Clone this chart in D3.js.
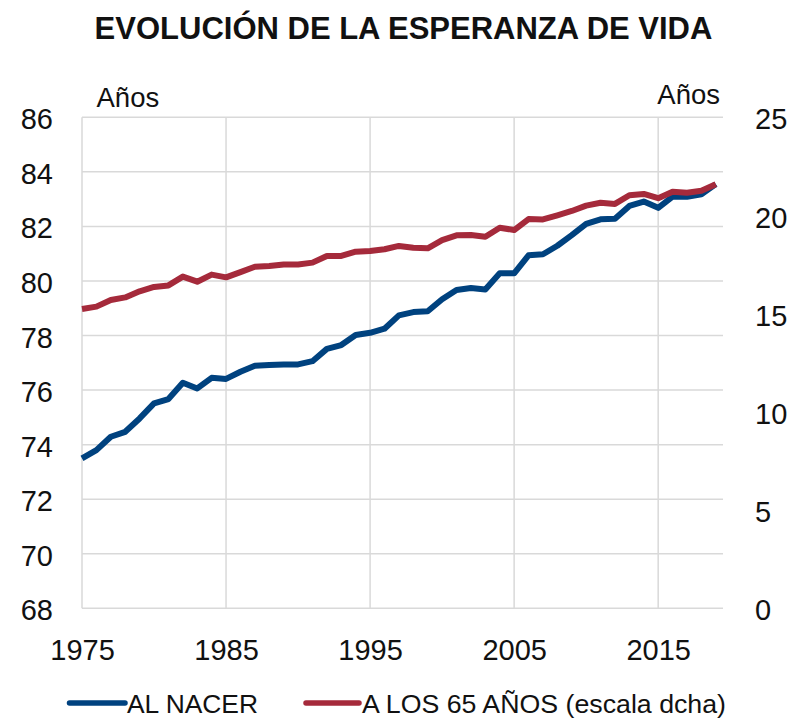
<!DOCTYPE html>
<html><head><meta charset="utf-8">
<script src="https://cdn.jsdelivr.net/npm/d3@7"></script>
<style>
html,body{margin:0;padding:0;background:#fff;}
text{font-family:"Liberation Sans",Arial,Helvetica,sans-serif;fill:#111;}
</style></head>
<body><svg id="chart" width="790" height="718"></svg>
<script>
const years = d3.range(1975, 2020);
const alNacer = [73.50,73.80,74.29,74.47,74.96,75.51,75.67,76.27,76.06,76.45,
  76.41,76.67,76.89,76.92,76.94,76.94,77.06,77.51,77.65,78.02,
  78.10,78.25,78.74,78.86,78.89,79.33,79.67,79.74,79.69,80.28,
  80.28,80.94,80.98,81.29,81.68,82.09,82.26,82.28,82.75,82.91,
  82.68,83.09,83.09,83.18,83.55];
const a65 = [15.24,15.36,15.70,15.83,16.14,16.36,16.44,16.89,16.63,16.99,
  16.85,17.12,17.39,17.43,17.51,17.51,17.60,17.94,17.94,18.16,
  18.19,18.28,18.45,18.36,18.33,18.75,18.99,19.01,18.92,19.38,
  19.26,19.82,19.80,20.01,20.23,20.50,20.65,20.59,21.03,21.10,
  20.88,21.21,21.16,21.26,21.59];
const xTicks = [1975, 1985, 1995, 2005, 2015];
const leftTicks = [68,70,72,74,76,78,80,82,84,86];
const rightTicks = [0,5,10,15,20,25];
const seriesNames = ["AL NACER", "A LOS 65 AÑOS (escala dcha)"];
const colors = ["#00427f", "#a52a3b"];
const titleText = "EVOLUCIÓN DE LA ESPERANZA DE VIDA";
const unitLabel = "Años";

const svg = d3.select("#chart");
const L = 82, R = 723, T = 117.3, B = 608.3;
const x = d3.scaleLinear().domain([1975, 2019.5]).range([L, R]);
const yL = d3.scaleLinear().domain([68, 86]).range([B, T]);
const yR = d3.scaleLinear().domain([0, 25]).range([B, T]);

// title
svg.append("text").attr("x", 403.5).attr("y", 38.5).attr("text-anchor","middle")
  .style("font-size","31px").style("font-weight","bold").text(titleText);

// grid
const grid = svg.append("g").attr("stroke","#d9d9d9").attr("stroke-width",1.5);
grid.selectAll("line.h").data(leftTicks).join("line")
  .attr("x1", L).attr("x2", R).attr("y1", d=>yL(d)).attr("y2", d=>yL(d));
grid.selectAll("line.v").data(xTicks).join("line")
  .attr("x1", d=>x(d)).attr("x2", d=>x(d)).attr("y1", T).attr("y2", B);

// left axis
const axL = svg.append("g").attr("transform",`translate(${L},0)`)
  .call(d3.axisLeft(yL).tickValues(leftTicks).tickSize(0).tickPadding(29));
axL.select(".domain").remove();
axL.selectAll("text").style("font-size","29px").style("font-family","Liberation Sans, Arial, sans-serif")
  .attr("dy", null).attr("y", 11.5);

// right axis
const axR = svg.append("g").attr("transform",`translate(${R},0)`)
  .call(d3.axisRight(yR).tickValues(rightTicks).tickSize(0).tickPadding(32));
axR.select(".domain").remove();
axR.selectAll("text").style("font-size","29px").style("font-family","Liberation Sans, Arial, sans-serif")
  .attr("dy", null).attr("y", 11.5);

// bottom axis
const axB = svg.append("g").attr("transform",`translate(0,${B})`)
  .call(d3.axisBottom(x).tickValues(xTicks).tickFormat(d3.format("d")).tickSize(0).tickPadding(0));
axB.select(".domain").remove();
axB.selectAll("text").style("font-size","29px").style("font-family","Liberation Sans, Arial, sans-serif")
  .attr("dy", null).attr("y", 52);

// unit labels
svg.append("text").attr("x", 96.5).attr("y", 107).style("font-size","27.5px").text(unitLabel);
svg.append("text").attr("x", 720).attr("y", 103.5).attr("text-anchor","end").style("font-size","27.5px").text(unitLabel);

// lines
const lineL = d3.line().x((d,i)=>x(years[i])).y(d=>yL(d));
const lineR = d3.line().x((d,i)=>x(years[i])).y(d=>yR(d));
svg.append("path").datum(alNacer).attr("d", lineL).attr("fill","none")
  .attr("stroke", colors[0]).attr("stroke-width", 6).attr("stroke-linejoin","round");
svg.append("path").datum(a65).attr("d", lineR).attr("fill","none")
  .attr("stroke", colors[1]).attr("stroke-width", 6).attr("stroke-linejoin","round");

// legend
const leg = [
  {x1:69.5, x2:125, tx:127, w:131},
  {x1:306, x2:359, tx:362, w:364}
];
leg.forEach((l,i)=>{
  svg.append("line").attr("x1",l.x1).attr("x2",l.x2).attr("y1",703).attr("y2",703)
    .attr("stroke",colors[i]).attr("stroke-width",5.5).attr("stroke-linecap","round");
  svg.append("text").attr("x",l.tx).attr("y",712.5).style("font-size","26.5px")
    .attr("textLength", l.w).attr("lengthAdjust","spacingAndGlyphs").text(seriesNames[i]);
});
</script></body></html>
